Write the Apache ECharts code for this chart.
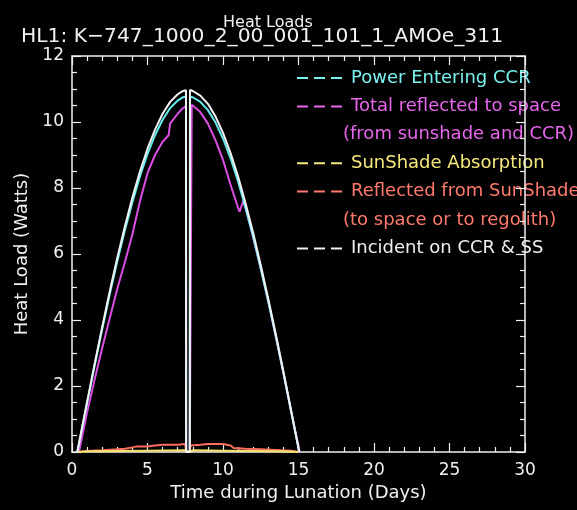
<!DOCTYPE html>
<html>
<head>
<meta charset="utf-8">
<script src="https://cdn.jsdelivr.net/npm/echarts@6/dist/echarts.min.js"></script>
<style>
  html, body { margin: 0; padding: 0; background: #000; }
  #chart { width: 577px; height: 510px; }
</style>
</head>
<body>
<div id="chart"></div>
<script>
// Heat load components over one lunation, [day, watts]
const incidentOnCcrSs = [
  [0.35, 0], [1, 1.52], [1.5, 2.67], [2, 3.79], [2.5, 4.87], [3, 5.89], [3.5, 6.83],
  [4, 7.71], [4.5, 8.50], [5, 9.19], [5.5, 9.77], [6, 10.25], [6.5, 10.61], [7, 10.84],
  [7.3, 10.93], [7.55, 10.96], [7.56, 0], [7.80, 0], [7.81, 10.97], [8, 10.94],
  [8.5, 10.80], [9, 10.55], [9.5, 10.17], [10, 9.67], [10.5, 9.06], [11, 8.35],
  [11.5, 7.52], [12, 6.64], [12.5, 5.66], [13, 4.64], [13.5, 3.56], [14, 2.44],
  [14.5, 1.28], [15.05, 0]
];
const powerEnteringCcr = [
  [0.35, 0], [1, 1.49], [1.5, 2.62], [2, 3.72], [2.5, 4.78], [3, 5.78], [3.5, 6.71],
  [4, 7.57], [4.5, 8.35], [5, 9.03], [5.5, 9.60], [6, 10.07], [6.5, 10.42], [7, 10.65],
  [7.3, 10.74], [7.55, 10.77], [7.56, 0], [7.80, 0], [7.82, 10.76], [8, 10.75],
  [8.5, 10.61], [9, 10.36], [9.5, 9.99], [10, 9.50], [10.5, 8.90], [11, 8.20],
  [11.5, 7.39], [12, 6.52], [12.5, 5.56], [13, 4.56], [13.5, 3.50], [14, 2.40],
  [14.5, 1.26], [15.05, 0]
];
const totalReflectedToSpace = [
  [0.46, 0], [1, 1.2], [1.5, 2.2], [2, 3.15], [2.5, 4.05], [3, 4.95], [3.5, 5.75],
  [4, 6.6], [4.5, 7.6], [5, 8.45], [5.5, 9.0], [6, 9.4], [6.4, 9.6], [6.5, 9.95],
  [7, 10.25], [7.3, 10.4], [7.55, 10.48], [7.56, 0], [7.80, 0], [7.93, 10.52],
  [8.5, 10.3], [9, 9.95], [9.5, 9.45], [10, 8.85], [10.5, 8.1], [11, 7.4],
  [11.1, 7.28], [11.35, 7.62], [11.5, 7.37], [12, 6.5], [12.5, 5.55], [13, 4.55],
  [13.5, 3.49], [14, 2.39], [14.5, 1.25], [15.08, 0]
];
const sunshadeAbsorption = [
  [0.4, 0], [1, 0.02], [3, 0.03], [5, 0.04], [7.5, 0.05], [7.56, 0], [7.8, 0],
  [8, 0.05], [10, 0.04], [12, 0.03], [14, 0.02], [15, 0]
];
const reflectedFromSunshade = [
  [0.5, 0], [1, 0.03], [2, 0.05], [3, 0.08], [3.5, 0.1], [4, 0.14], [4.3, 0.17],
  [5, 0.17], [5.5, 0.2], [6, 0.22], [7, 0.22], [7.5, 0.24], [7.56, 0], [7.8, 0],
  [7.85, 0.2], [8.5, 0.22], [9, 0.24], [10, 0.24], [10.5, 0.2], [10.7, 0.12],
  [11.5, 0.1], [12.5, 0.08], [13.5, 0.06], [14.5, 0.04], [15, 0]
];

const chartTitle = 'Heat Loads';
const runTitle = 'HL1: K\u2212747_1000_2_00_001_101_1_AMOe_311';
const xAxisName = 'Time during Lunation (Days)';
const yAxisName = 'Heat Load (Watts)';

// Legend rows: [text, series key, shows dash]
const legendRows = [
  ['Power Entering CCR', 'cyan', true],
  ['Total reflected to space', 'magenta', true],
  ['(from sunshade and CCR)', 'magenta', false],
  ['SunShade Absorption', 'yellow', true],
  ['Reflected from SunShade', 'red', true],
  ['(to space or to regolith)', 'red', false],
  ['Incident on CCR & SS', 'white', true]
];

const palette = {
  cyan: '#64ecec',
  magenta: '#dc4fe4',
  yellow: '#f4e26c',
  red: '#ff6d5e',
  white: '#f2f2f2'
};
const legendText = {
  cyan: '#7af2ee',
  magenta: '#e866ec',
  yellow: '#f6ea7c',
  red: '#ff7a6c',
  white: '#f0f0f0'
};

const SANS = '"DejaVu Sans", "Noto Sans", sans-serif';
const AX = '#f0f0f0';

function axisCommon(extra) {
  return Object.assign({
    type: 'value',
    axisLine: { show: true, onZero: false, lineStyle: { color: AX, width: 1.5 } },
    axisTick: { show: true, inside: true, length: 9, lineStyle: { color: AX, width: 1.2 } },
    splitLine: { show: false },
    minorSplitLine: { show: false }
  }, extra);
}

const chart = echarts.init(document.getElementById('chart'));

const graphic = [
  {
    type: 'text', left: 223, top: 15,
    style: { text: chartTitle, fill: '#f0f0f0', font: '16px ' + SANS }
  },
  {
    type: 'text', left: 21, top: 27,
    style: { text: runTitle, fill: '#f0f0f0', font: '20.3px ' + SANS }
  }
];
legendRows.forEach(function (row, i) {
  const y = 78 + 28.4 * i;
  if (row[2]) {
    graphic.push({
      type: 'line',
      shape: { x1: 297, y1: y, x2: 342, y2: y },
      style: { stroke: legendText[row[1]], lineWidth: 2, lineDash: [11, 6] }
    });
  }
  graphic.push({
    type: 'text',
    x: row[2] ? 351 : 343,
    y: y,
    style: {
      text: row[0], fill: legendText[row[1]], font: '18px ' + SANS,
      textVerticalAlign: 'middle'
    }
  });
});

function lineSeries(name, data, colorKey, z) {
  return {
    name: name, type: 'line', data: data, symbol: 'none',
    xAxisIndex: 0, yAxisIndex: 0, z: z, clip: true,
    lineStyle: { color: palette[colorKey], width: 2 },
    emphasis: { disabled: true }
  };
}

const minorX = { show: true, splitNumber: 5, length: 5, lineStyle: { color: AX, width: 1.2 } };
const minorY = { show: true, splitNumber: 4, length: 5, lineStyle: { color: AX, width: 1.2 } };

chart.setOption({
  backgroundColor: '#000',
  animation: false,
  grid: { left: 72, right: 52, top: 56, bottom: 58 },
  xAxis: [
    axisCommon({
      position: 'bottom', min: 0, max: 30, interval: 5, minorTick: minorX,
      axisLabel: { color: '#f0f0f0', fontSize: 17, fontFamily: SANS, margin: 10 },
      name: xAxisName, nameLocation: 'middle', nameGap: 31,
      nameTextStyle: { color: '#f0f0f0', fontSize: 18, fontFamily: SANS }
    }),
    axisCommon({
      position: 'top', min: 0, max: 30, interval: 5, minorTick: minorX,
      axisLabel: { show: false }
    })
  ],
  yAxis: [
    axisCommon({
      position: 'left', min: 0, max: 12, interval: 2, minorTick: minorY,
      axisLabel: { color: '#f0f0f0', fontSize: 17, fontFamily: SANS, margin: 8 },
      name: yAxisName, nameLocation: 'middle', nameGap: 41,
      nameTextStyle: { color: '#f0f0f0', fontSize: 18, fontFamily: SANS }
    }),
    axisCommon({
      position: 'right', min: 0, max: 12, interval: 2, minorTick: minorY,
      axisLabel: { show: false }
    })
  ],
  graphic: graphic,
  series: [
    lineSeries('Total reflected to space', totalReflectedToSpace, 'magenta', 3),
    lineSeries('Power Entering CCR', powerEnteringCcr, 'cyan', 4),
    lineSeries('Reflected from SunShade', reflectedFromSunshade, 'red', 5),
    lineSeries('SunShade Absorption', sunshadeAbsorption, 'yellow', 6),
    lineSeries('Incident on CCR & SS', incidentOnCcrSs, 'white', 7)
  ]
});
</script>
</body>
</html>
